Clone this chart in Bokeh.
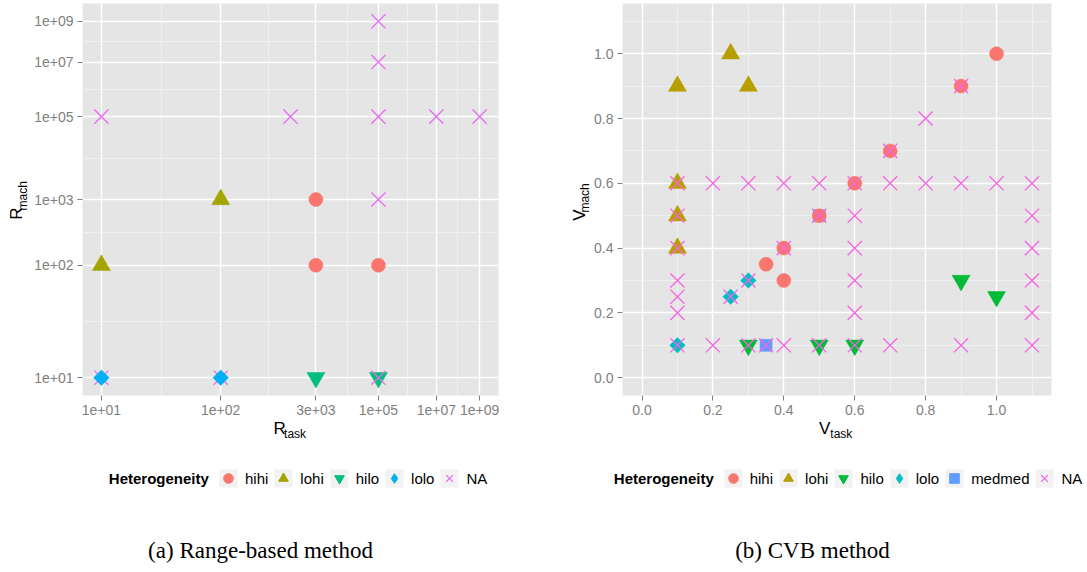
import numpy as np
from bokeh.plotting import figure
from bokeh.models import (ColumnDataSource, Range1d, FixedTicker, Label, Legend, LegendItem,
                          CustomJSTickFormatter, PrintfTickFormatter)
from bokeh.layouts import row, column
from bokeh.embed import file_html
from bokeh.resources import INLINE

# ---------------- data: (a) Range-based method ----------------
rb_hihi_task = [3e3, 3e3, 1e5]
rb_hihi_mach = [1e3, 1e2, 1e2]
rb_lohi_task = [1e1, 1e2]
rb_lohi_mach = [1e2, 1e3]
rb_hilo_task = [3e3, 1e5]
rb_hilo_mach = [1e1, 1e1]
rb_lolo_task = [1e1, 1e2]
rb_lolo_mach = [1e1, 1e1]
rb_na_task = [1e1, 1e3, 1e5, 1e5, 1e5, 1e5, 1e7, 1e9, 1e1, 1e2, 1e5]
rb_na_mach = [1e5, 1e5, 1e9, 1e7, 1e5, 1e3, 1e5, 1e5, 1e1, 1e1, 1e1]
rb_x_ticks = [1e1, 1e2, 3e3, 1e5, 1e7, 1e9]
rb_x_labels = ["1e+01", "1e+02", "3e+03", "1e+05", "1e+07", "1e+09"]
rb_y_ticks = [1e1, 1e2, 1e3, 1e5, 1e7, 1e9]
rb_y_labels = ["1e+01", "1e+02", "1e+03", "1e+05", "1e+07", "1e+09"]

# ---------------- data: (b) CVB method ----------------
cvb_hihi_task = [0.35, 0.4, 0.4, 0.5, 0.6, 0.7, 0.9, 1.0]
cvb_hihi_mach = [0.35, 0.3, 0.4, 0.5, 0.6, 0.7, 0.9, 1.0]
cvb_lohi_task = [0.25, 0.1, 0.3, 0.1, 0.1, 0.1]
cvb_lohi_mach = [1.0, 0.9, 0.9, 0.6, 0.5, 0.4]
cvb_hilo_task = [0.9, 1.0, 0.3, 0.5, 0.6]
cvb_hilo_mach = [0.3, 0.25, 0.1, 0.1, 0.1]
cvb_lolo_task = [0.1, 0.25, 0.3]
cvb_lolo_mach = [0.1, 0.25, 0.3]
cvb_medmed_task = [0.35, 0.5]
cvb_medmed_mach = [0.1, 0.5]
cvb_na_task = [0.1, 0.1, 0.1, 0.1, 0.1, 0.1, 0.1,
               0.2, 0.2, 0.25, 0.3, 0.3, 0.3, 0.35,
               0.4, 0.4, 0.4, 0.5, 0.5, 0.5,
               0.6, 0.6, 0.6, 0.6, 0.6, 0.6,
               0.7, 0.7, 0.7, 0.8, 0.8, 0.9, 0.9, 0.9, 1.0,
               1.1, 1.1, 1.1, 1.1, 1.1, 1.1]
cvb_na_mach = [0.6, 0.5, 0.4, 0.3, 0.25, 0.2, 0.1,
               0.6, 0.1, 0.25, 0.6, 0.3, 0.1, 0.1,
               0.6, 0.4, 0.1, 0.6, 0.5, 0.1,
               0.6, 0.5, 0.4, 0.3, 0.2, 0.1,
               0.7, 0.6, 0.1, 0.8, 0.6, 0.9, 0.6, 0.1, 0.6,
               0.6, 0.5, 0.4, 0.3, 0.2, 0.1]
cvb_ticks = [0.0, 0.2, 0.4, 0.6, 0.8, 1.0]
cvb_minor = [0.1, 0.3, 0.5, 0.7, 0.9, 1.1]
cvb_limits = [0.0, 1.1]

# ---------------- styling / layout ----------------
TOP = 3
FRAME_H = 392
H_MAIN = 420          # height of the plotting figures
H_BOT = 150           # strip holding x title, legend and caption
SANS = "Liberation Sans"
SERIF = "Liberation Serif"
GREY = "#7F7F7F"
PANEL = "#E5E5E5"
KEYBG = "#F2F2F2"


def loglog(v):
    return np.log(np.log10(np.asarray(v, dtype=float)))


def make_fig(width, left, frame_w, xr, yr):
    p = figure(width=width, height=H_MAIN, x_range=xr, y_range=yr, output_backend="svg",
               toolbar_location=None, min_border_left=left,
               min_border_right=width - left - frame_w, min_border_top=TOP,
               min_border_bottom=H_MAIN - FRAME_H - TOP)
    p.background_fill_color = PANEL
    p.border_fill_color = "white"
    p.outline_line_color = None
    for ax in (p.xaxis[0], p.yaxis[0]):
        ax.axis_line_color = None
        ax.major_tick_line_color = GREY
        ax.major_tick_line_width = 1
        ax.major_tick_out = 5
        ax.major_tick_in = 0
        ax.minor_tick_line_color = None
        ax.major_label_text_color = GREY
        ax.major_label_text_font = SANS
        ax.major_label_text_font_size = "14px"
        ax.major_label_standoff = 4
    for g in (p.xgrid[0], p.ygrid[0]):
        g.grid_line_color = "white"
        g.grid_line_width = 1.4
        g.minor_grid_line_color = KEYBG
        g.minor_grid_line_width = 0.8
    return p


def blank_fig(width, height):
    p = figure(width=width, height=height, x_range=Range1d(0, width),
               y_range=Range1d(0, height), output_backend="svg", toolbar_location=None,
               x_axis_type=None, y_axis_type=None, min_border=0)
    p.outline_line_color = None
    p.background_fill_color = "white"
    p.border_fill_color = "white"
    p.xgrid.visible = False
    p.ygrid.visible = False
    return p


def label(p, x, y, text, size, style="normal", angle=0.0, align="left",
          baseline="middle", font=SANS, color="black"):
    p.add_layout(Label(x=x, y=y, x_units="screen", y_units="screen", text=text,
                       text_font=font, text_font_size=f"{size}px", text_font_style=style,
                       text_color=color, angle=angle, text_align=align,
                       text_baseline=baseline))


def series(p, xs, ys, marker, color, size, angle=0.0):
    src = ColumnDataSource(dict(x=list(xs), y=list(ys)))
    if marker == "x":
        p.scatter("x", "y", source=src, marker="x", size=size, line_color=color,
                  line_width=1.3)
    else:
        p.scatter("x", "y", source=src, marker=marker, size=size, fill_color=color,
                  line_color=color, line_width=0.5, angle=angle)
    return src


def key(pb, src, marker, color):
    """Hidden renderers in the legend strip: grey key box + the series' marker."""
    bg = pb.quad(left="x", right="x", bottom="y", top="y", source=src, fill_color=KEYBG,
                 line_color="white", line_width=1)
    bg.visible = False
    if marker == "x":
        m = pb.scatter("x", "y", source=src, marker="x", size=20, line_color=color,
                       line_width=1.3)
    else:
        m = pb.scatter("x", "y", source=src, marker=marker, size=14, fill_color=color,
                       line_color=color)
    m.visible = False
    return [bg, m]


def legend(pb, items, x, y):
    lg = Legend(items=items, location=(x, y), orientation="horizontal",
                glyph_width=24, glyph_height=24, label_height=24, label_width=10,
                label_standoff=5, spacing=3, padding=0, margin=0,
                border_line_color=None, background_fill_alpha=0,
                label_text_font=SANS, label_text_font_size="15px",
                label_text_color="black")
    pb.add_layout(lg)


tick_code = ("let b = 0; for (let i = 0; i < vals.length; i++) {"
             " if (Math.abs(vals[i] - tick) < Math.abs(vals[b] - tick)) b = i; }"
             " return labels[b];")

# ================= (a) Range-based =================
W1 = 544
YT1 = 30
L1, FW1 = 52, 416
xr1_lo, xr1_hi = loglog(rb_x_ticks[0]), loglog(rb_x_ticks[-1])
yr1_lo, yr1_hi = loglog(rb_y_ticks[0]), loglog(rb_y_ticks[-1])
pad_x1 = 0.05 * (xr1_hi - xr1_lo)
pad_y1 = 0.05 * (yr1_hi - yr1_lo)
p1 = make_fig(W1 - YT1, L1, FW1, Range1d(xr1_lo - pad_x1, xr1_hi + pad_x1),
              Range1d(yr1_lo - pad_y1, yr1_hi + pad_y1))
xt1 = loglog(rb_x_ticks)
yt1 = loglog(rb_y_ticks)
xm1 = list((xt1[:-1] + xt1[1:]) / 2)
ym1 = list((yt1[:-1] + yt1[1:]) / 2)
p1.xaxis.ticker = FixedTicker(ticks=list(xt1), minor_ticks=xm1)
p1.xgrid.ticker = FixedTicker(ticks=list(xt1), minor_ticks=xm1)
p1.xaxis.formatter = CustomJSTickFormatter(args=dict(vals=list(xt1), labels=rb_x_labels),
                                           code=tick_code)
p1.yaxis.ticker = FixedTicker(ticks=list(yt1), minor_ticks=ym1)
p1.ygrid.ticker = FixedTicker(ticks=list(yt1), minor_ticks=ym1)
p1.yaxis.formatter = CustomJSTickFormatter(args=dict(vals=list(yt1), labels=rb_y_labels),
                                           code=tick_code)

c1 = dict(hihi="#F8766D", lohi="#A3A500", hilo="#00BF7D", lolo="#00B0F6", NA="#E76BF3")
a_hihi = series(p1, loglog(rb_hihi_task), loglog(rb_hihi_mach), "circle", c1["hihi"], 14)
a_lohi = series(p1, loglog(rb_lohi_task), loglog(rb_lohi_mach), "triangle", c1["lohi"], 18)
a_hilo = series(p1, loglog(rb_hilo_task), loglog(rb_hilo_mach), "inverted_triangle", c1["hilo"], 18)
a_na = series(p1, loglog(rb_na_task), loglog(rb_na_mach), "x", c1["NA"], 20)
a_lolo = series(p1, loglog(rb_lolo_task), loglog(rb_lolo_mach), "square", c1["lolo"], 11,
                angle=np.pi / 4)

# rotated y title
yt_1 = blank_fig(YT1, H_MAIN)
label(yt_1, 16.4, 182.0, "R", 17, angle=np.pi / 2, align="center")
label(yt_1, 22.8, 199.7, "mach", 12, angle=np.pi / 2, align="center")

b1 = blank_fig(W1, H_BOT)
fcx1 = YT1 + L1 + FW1 / 2.0
label(b1, fcx1 - 17, H_BOT + H_MAIN - 427.5, "R", 17)
label(b1, fcx1 - 6.4, H_BOT + H_MAIN - 433.3, "task", 12)
legend(b1, [LegendItem(label="hihi", renderers=key(b1, a_hihi, "circle", c1["hihi"])),
            LegendItem(label="lohi", renderers=key(b1, a_lohi, "triangle", c1["lohi"])),
            LegendItem(label="hilo", renderers=key(b1, a_hilo, "inverted_triangle", c1["hilo"])),
            LegendItem(label="lolo", renderers=key(b1, a_lolo, "diamond", c1["lolo"])),
            LegendItem(label="NA", renderers=key(b1, a_na, "x", c1["NA"]))],
       216, H_BOT + H_MAIN - 490)
label(b1, 108.3, H_BOT + H_MAIN - 478, "Heterogeneity", 15, style="bold")
label(b1, 260, H_BOT + H_MAIN - 550, "(a) Range-based method", 23, font=SERIF, align="center")

# ================= (b) CVB =================
X2 = 544
W2 = 542
YT2 = 47
L2, FW2 = 29, 431
pad2 = 0.05 * (cvb_limits[1] - cvb_limits[0])
p2 = make_fig(W2 - YT2, L2, FW2, Range1d(cvb_limits[0] - pad2, cvb_limits[1] + pad2),
              Range1d(cvb_limits[0] - pad2, cvb_limits[1] + pad2))
for ax, g in ((p2.xaxis, p2.xgrid), (p2.yaxis, p2.ygrid)):
    ax.ticker = FixedTicker(ticks=cvb_ticks, minor_ticks=cvb_minor)
    g.ticker = FixedTicker(ticks=cvb_ticks, minor_ticks=cvb_minor)
    ax.formatter = PrintfTickFormatter(format="%.1f")

c2 = dict(hihi="#F8766D", lohi="#B79F00", hilo="#00BA38", lolo="#00BFC4",
          medmed="#619CFF", NA="#F564E3")
b_med = series(p2, cvb_medmed_task, cvb_medmed_mach, "square", c2["medmed"], 12)
b_hihi = series(p2, cvb_hihi_task, cvb_hihi_mach, "circle", c2["hihi"], 14)
b_lohi = series(p2, cvb_lohi_task, cvb_lohi_mach, "triangle", c2["lohi"], 18)
b_hilo = series(p2, cvb_hilo_task, cvb_hilo_mach, "inverted_triangle", c2["hilo"], 18)
b_lolo = series(p2, cvb_lolo_task, cvb_lolo_mach, "square", c2["lolo"], 11, angle=np.pi / 4)
b_na = series(p2, cvb_na_task, cvb_na_mach, "x", c2["NA"], 20)

yt_2 = blank_fig(YT2, H_MAIN)
label(yt_2, 35.4, 180.3, "V", 17, angle=np.pi / 2, align="center")
label(yt_2, 40.3, 197.6, "mach", 12, angle=np.pi / 2, align="center")

b2 = blank_fig(W2, H_BOT)
fcx2 = YT2 + L2 + FW2 / 2.0
label(b2, fcx2 - 17, H_BOT + H_MAIN - 427.5, "V", 17)
label(b2, fcx2 - 5.7, H_BOT + H_MAIN - 433.3, "task", 12)
legend(b2, [LegendItem(label="hihi", renderers=key(b2, b_hihi, "circle", c2["hihi"])),
            LegendItem(label="lohi", renderers=key(b2, b_lohi, "triangle", c2["lohi"])),
            LegendItem(label="hilo", renderers=key(b2, b_hilo, "inverted_triangle", c2["hilo"])),
            LegendItem(label="lolo", renderers=key(b2, b_lolo, "diamond", c2["lolo"])),
            LegendItem(label="medmed", renderers=key(b2, b_med, "square", c2["medmed"])),
            LegendItem(label="NA", renderers=key(b2, b_na, "x", c2["NA"]))],
       720.7 - X2, H_BOT + H_MAIN - 490)
label(b2, 613.3 - X2, H_BOT + H_MAIN - 478, "Heterogeneity", 15, style="bold")
label(b2, 812 - X2, H_BOT + H_MAIN - 550, "(b) CVB method", 23, font=SERIF, align="center")

layout = row(column(row(yt_1, p1), b1), column(row(yt_2, p2), b2))
open("out.html", "w").write(file_html(layout, INLINE))
